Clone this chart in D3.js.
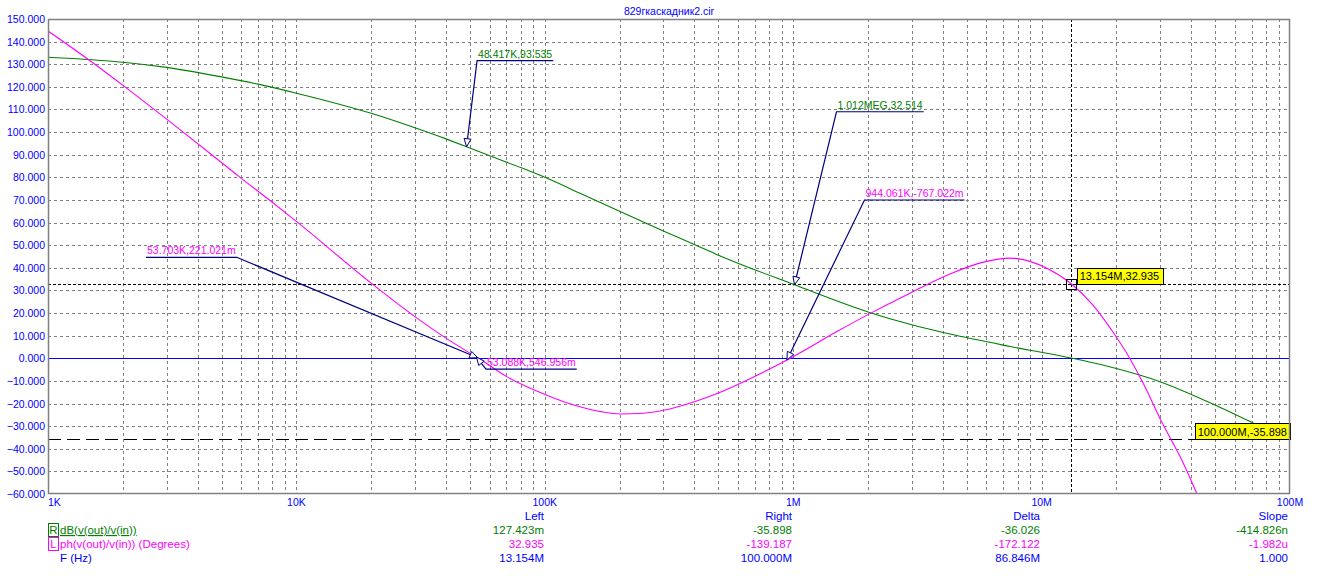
<!DOCTYPE html>
<html><head><meta charset="utf-8">
<script src="https://cdn.jsdelivr.net/npm/d3@7"></script>
<style>
html,body{margin:0;padding:0;background:#fff;}
svg{display:block;font-family:Arial,"Liberation Sans",sans-serif;}
</style></head><body>
<svg id="c" width="1320" height="576"></svg>
<script>
// ---------- data ----------
const title = "829гкаскадник2.cir";
const magFreq = [1e3,1.5e3,2e3,3e3,5e3,7e3,1e4,2e4,3e4,4e4,48.417e3,6e4,8e4,1e5,138.6e3,2e5,3e5,4e5,5e5,1.012e6,2e6,3e6,4.28e6,7.5e6,13.154e6,2e7,29.4e6,50.7e6,71.6e6,1e8];
const magDb   = [133.1,132.0,130.9,128.6,124.4,121.2,117.2,108.3,101.9,97.0,93.535,89.5,84.3,80.0,73.0,65.0,56.3,50.3,45.6,32.514,20.5,14.8,10.7,5.2,0.127,-4.5,-10.0,-21.0,-28.8,-35.898];
const phFreq = [1e3,1.5e3,2.04e3,3.5e3,4.56e3,5.93e3,7.7e3,1e4,2e4,3e4,4e4,53.088e3,53.703e3,7e4,92.8e3,1.2e5,138.6e3,1.7e5,2e5,2.5e5,3e5,4e5,5e5,7e5,944.061e3,1.5e6,2e6,2.95e6,4.28e6,5.83e6,7.46e6,10.5e6,13.154e6,16.1e6,19.4e6,22.5e6,25.5e6,30.4e6,37.2e6,42.1e6,5e7,7e7,1e8];
const phDeg  = [144.7,131.0,120.0,100.0,90.0,80.0,70.4,60.5,33.2,18.4,8.9,0.547,0.221,-8.0,-14.5,-19.3,-21.4,-23.7,-24.6,-24.3,-23.0,-19.2,-15.3,-8.0,-0.767,11.8,19.3,28.8,37.3,42.5,44.3,39.8,32.935,23.5,11.5,0.5,-10.5,-28.0,-46.4,-59.7,-80.0,-115.0,-139.187];
const yTicks = d3.range(-60, 151, 10);
const xTickVals = [1e3,1e4,1e5,1e6,1e7,1e8];
const xTickLabels = ["1K","10K","100K","1M","10M","100M"];
const markerFreq = [48.417e3, 1.012e6, 944.061e3, 53.703e3, 53.088e3];
const markerVal  = [93.535, 32.514, -0.767022, 0.221021, 0.546956];
const markerText = ["48.417K,93.535","1.012MEG,32.514","944.061K,-767.022m","53.703K,221.021m","53.088K,546.956m"];
const markerSeries = ["mag","mag","ph","ph","ph"];
const cursorFreq = [13.154e6, 100e6];
const cursorVal  = [32.935, -35.898];
const cursorText = ["13.154M,32.935","100.000M,-35.898"];
const legendNames = ["dB(v(out)/v(in))","ph(v(out)/v(in)) (Degrees)","F (Hz)"];
const legendKeys = ["R","L",""];
const legendCols = ["Left","Right","Delta","Slope"];
const legendVals = [["127.423m","-35.898","-36.026","-414.826n"],["32.935","-139.187","-172.122","-1.982u"],["13.154M","100.000M","86.846M","1.000"]];

// ---------- layout / style ----------
const L = 48, R = 1290, T = 19, B = 494;
const FS = 10.5;
const colMag = "#008000", colPh = "#ff00ff", colAx = "#0000ff", colAnn = "#000080";
const markerLayout = [[10.5,-86,1],[42,-173,1],[77.5,-160,1],[-241,-100.5,-1],[9.5,12,1]];
const legendColX = [544, 792, 1040, 1288];
const legendRowY = [530, 544, 558];

const svg = d3.select("#c");
const x = d3.scaleLog().domain([1e3,1e8]).range([L,R]);
const y = d3.scaleLinear().domain([-60,150]).range([B,T]);

svg.append("defs").append("clipPath").attr("id","clip")
  .append("rect").attr("x",L).attr("y",T).attr("width",R-L).attr("height",B-T);

// grid
const grid = svg.append("g");
const minor = [];
for (let d=1e3; d<1e8; d*=10) for (let k=1;k<=9;k++) { const v=d*k; if (v>1e3) minor.push(v); }
grid.selectAll("line.v").data(minor).join("line")
  .attr("x1",d=>Math.round(x(d))+0.5).attr("x2",d=>Math.round(x(d))+0.5)
  .attr("y1",T).attr("y2",B).attr("stroke","#808080").attr("stroke-dasharray","3,3");
grid.selectAll("line.h").data(yTicks.filter(v=>v>-60&&v<150)).join("line")
  .attr("x1",L).attr("x2",R)
  .attr("y1",d=>Math.round(y(d))+0.5).attr("y2",d=>Math.round(y(d))+0.5)
  .attr("stroke","#808080").attr("stroke-dasharray","3,3");

// y axis labels
svg.append("g").selectAll("text").data(yTicks).join("text")
  .attr("x",45).attr("y",d=>y(d)+4).attr("text-anchor","end")
  .attr("font-size",FS).attr("fill",colAx).text(d=>d3.format(".3f")(d));

// x axis labels
svg.append("g").selectAll("text").data(xTickVals).join("text")
  .attr("x",(d,i)=> i===0 ? L : x(d)).attr("y",506)
  .attr("text-anchor",(d,i)=> i===0 ? "start" : "middle")
  .attr("font-size",FS).attr("fill",colAx).text((d,i)=>xTickLabels[i]);

// title
svg.append("text").attr("x",669).attr("y",15).attr("text-anchor","middle")
  .attr("font-size",FS).attr("fill",colAx).text(title);

const plot = svg.append("g").attr("clip-path","url(#clip)");

// zero line
plot.append("line").attr("x1",L).attr("x2",R).attr("y1",Math.round(y(0))+0.5).attr("y2",Math.round(y(0))+0.5)
  .attr("stroke",colAx).attr("stroke-width",1.2);

// cursor lines
const cx0 = Math.round(x(cursorFreq[0]))+0.5;
plot.append("line").attr("x1",cx0).attr("x2",cx0).attr("y1",T).attr("y2",B)
  .attr("stroke","#000").attr("stroke-dasharray","3,2");
plot.append("line").attr("x1",L).attr("x2",R).attr("y1",Math.round(y(cursorVal[0]))+0.5).attr("y2",Math.round(y(cursorVal[0]))+0.5)
  .attr("stroke","#000").attr("stroke-dasharray","3,2");
plot.append("line").attr("x1",L).attr("x2",R).attr("y1",Math.round(y(cursorVal[1]))+0.5).attr("y2",Math.round(y(cursorVal[1]))+0.5)
  .attr("stroke","#000").attr("stroke-dasharray","13,6").attr("stroke-width",1.2);

// curves
const line = d3.line().x(d=>x(d[0])).y(d=>y(d[1])).curve(d3.curveMonotoneX);
plot.append("path").attr("d",line(magFreq.map((f,i)=>[f,magDb[i]])))
  .attr("fill","none").attr("stroke",colMag).attr("stroke-width",1.1);
plot.append("path").attr("d",line(phFreq.map((f,i)=>[f,phDeg[i]])))
  .attr("fill","none").attr("stroke",colPh).attr("stroke-width",1.1);

// marker annotations
const ann = svg.append("g");
markerFreq.forEach((f,i)=>{
  const px = x(f), py = y(markerVal[i]);
  const [dx,dy,dir] = markerLayout[i];
  const cxp = px+dx, cyp = py+dy;
  const col = markerSeries[i]==="mag" ? colMag : colPh;
  const t = ann.append("text").attr("font-size",FS).attr("fill",col).text(markerText[i]);
  const w = t.node().getComputedTextLength()+2;
  const ex = cxp + dir*w;
  t.attr("x", dir>0 ? cxp+1 : ex+1).attr("y", cyp-3);
  ann.append("path").attr("d",`M${px},${py}L${cxp},${cyp}L${ex},${cyp}`)
    .attr("fill","none").attr("stroke",colAnn).attr("stroke-width",1.2);
  // arrowhead
  const ang = Math.atan2(cyp-py, cxp-px);
  const len = 8, hw = 3.5;
  const bx = px+Math.cos(ang)*len, by = py+Math.sin(ang)*len;
  const nx = -Math.sin(ang)*hw, ny = Math.cos(ang)*hw;
  ann.append("path").attr("d",`M${px},${py}L${bx+nx},${by+ny}L${bx-nx},${by-ny}Z`)
    .attr("fill","#fff").attr("stroke",colAnn).attr("stroke-width",1);
});

// cursor point square
svg.append("rect").attr("x",Math.round(x(cursorFreq[0]))-4.5).attr("y",Math.round(y(cursorVal[0]))-4.5)
  .attr("width",10).attr("height",10).attr("fill","none").attr("stroke","#000");

// cursor value boxes
const boxAnchors = [[x(cursorFreq[0])+5.5, y(cursorVal[0])-16, "start"],[R, y(cursorVal[1])-16, "end"]];
cursorText.forEach((s,i)=>{
  const g = svg.append("g");
  const t = g.append("text").attr("font-size",FS+0.5).attr("fill","#000").text(s);
  const w = t.node().getComputedTextLength()+6;
  const [ax,ay,anc] = boxAnchors[i];
  const bx = anc==="start" ? ax : ax-w;
  g.insert("rect","text").attr("x",Math.round(bx)+0.5).attr("y",Math.round(ay)+0.5).attr("width",Math.round(w)).attr("height",16)
    .attr("fill","#ffff00").attr("stroke","#000");
  t.attr("x",bx+3).attr("y",ay+12.5);
});

// border
svg.append("rect").attr("x",L+0.5).attr("y",T+0.5).attr("width",R-L-1).attr("height",B-T-1)
  .attr("fill","none").attr("stroke","#808080").attr("stroke-width",1.5);

// legend
const leg = svg.append("g");
const legCols = [colMag,colPh,colAx];
legendNames.forEach((n,i)=>{
  const yy = legendRowY[i];
  if (legendKeys[i]) {
    leg.append("rect").attr("x",48.5).attr("y",yy-6.5).attr("width",10).attr("height",13)
      .attr("fill","none").attr("stroke",legCols[i]);
    leg.append("text").attr("x",53.5).attr("y",yy+4).attr("text-anchor","middle")
      .attr("font-size",FS+1).attr("fill",legCols[i]).text(legendKeys[i]);
  }
  leg.append("text").attr("x",60).attr("y",yy+4).attr("font-size",FS+1).attr("fill",legCols[i])
    .attr("text-decoration", i===0 ? "underline" : null).text(n);
});
legendCols.forEach((c,j)=>{
  leg.append("text").attr("x",legendColX[j]).attr("y",520).attr("text-anchor","end")
    .attr("font-size",FS+1).attr("fill",colAx).text(c);
  legendVals.forEach((row,i)=>{
    leg.append("text").attr("x",legendColX[j]).attr("y",legendRowY[i]+4).attr("text-anchor","end")
      .attr("font-size",FS+1).attr("fill",legCols[i]).text(row[j]);
  });
});
</script>
</body></html>
